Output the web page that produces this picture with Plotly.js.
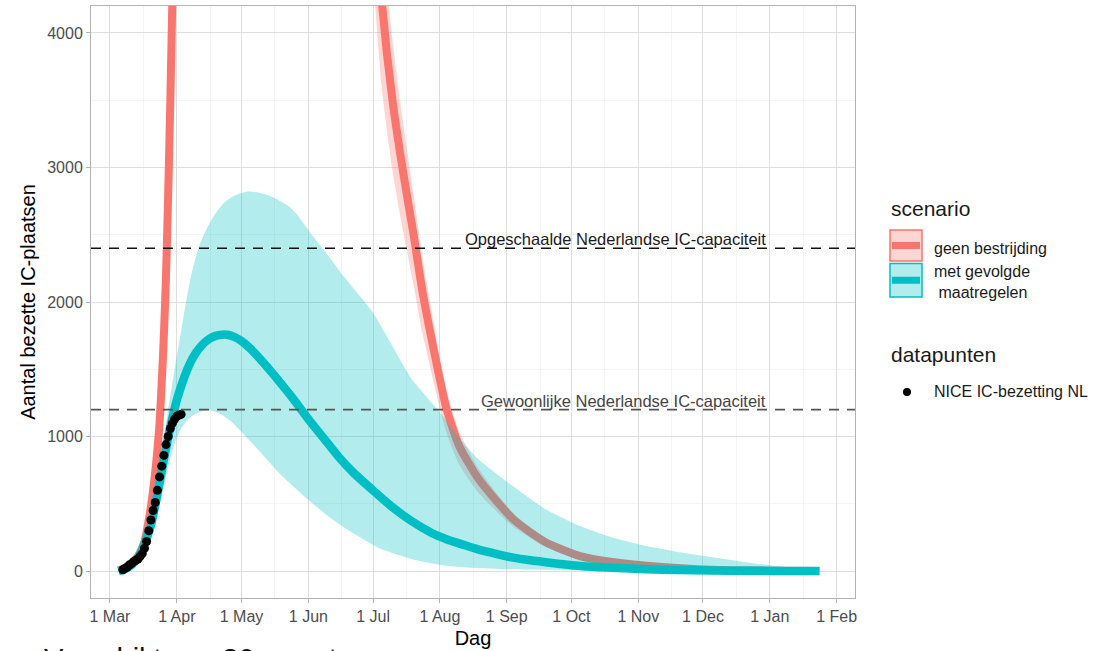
<!DOCTYPE html>
<html><head><meta charset="utf-8">
<script src="https://cdn.plot.ly/plotly-3.0.1.min.js"></script>
<style>html,body{margin:0;padding:0;background:#fff}#chart{width:1100px;height:651px}</style>
</head><body><div id="chart"></div>
<script>
// ---------- data ----------
const tealDates = ['2020-03-05','2020-03-08','2020-03-11','2020-03-14','2020-03-17','2020-03-20','2020-03-23','2020-03-26','2020-03-29','2020-04-01','2020-04-04','2020-04-07','2020-04-10','2020-04-13','2020-04-16','2020-04-19','2020-04-22','2020-04-25','2020-04-28','2020-05-01','2020-05-05','2020-05-10','2020-05-15','2020-05-20','2020-05-25','2020-06-01','2020-06-08','2020-06-15','2020-06-22','2020-07-01','2020-07-10','2020-07-19','2020-07-28','2020-08-04','2020-08-12','2020-08-19','2020-08-28','2020-09-04','2020-09-12','2020-09-19','2020-10-05','2020-10-20','2020-11-05','2020-11-20','2020-12-05','2020-12-25','2021-01-10','2021-01-24'];
const tealMedian = [0,15,45,100,200,340,570,830,1070,1270,1420,1540,1625,1685,1725,1748,1757,1755,1738,1710,1655,1570,1478,1380,1280,1130,990,850,730,600,475,370,285,237,195,160,125,100,80,66,38,24,14,8,4,2,1,0];

const tealUpperDates = ['2020-03-05','2020-03-10','2020-03-15','2020-03-20','2020-03-25','2020-03-28','2020-03-31','2020-04-03','2020-04-07','2020-04-11','2020-04-15','2020-04-19','2020-04-23','2020-04-27','2020-05-01','2020-05-04','2020-05-08','2020-05-12','2020-05-16','2020-05-20','2020-05-23','2020-05-26','2020-05-30','2020-06-03','2020-06-09','2020-06-15','2020-06-22','2020-07-01','2020-07-09','2020-07-19','2020-08-01','2020-08-10','2020-08-19','2020-09-04','2020-09-19','2020-10-05','2020-10-20','2020-11-05','2020-11-20','2020-12-05','2020-12-20','2021-01-04','2021-01-15','2021-01-24'];
const tealUpper = [0,40,150,430,880,1200,1500,1780,2150,2400,2550,2660,2740,2785,2810,2822,2815,2800,2775,2740,2710,2665,2580,2490,2370,2240,2100,1920,1700,1425,1180,990,830,630,460,335,250,186,140,104,68,37,20,10];

const tealLowerDates = ['2020-03-05','2020-03-10','2020-03-15','2020-03-20','2020-03-25','2020-03-30','2020-04-03','2020-04-07','2020-04-11','2020-04-16','2020-04-21','2020-04-26','2020-05-03','2020-05-10','2020-05-19','2020-06-01','2020-06-10','2020-06-20','2020-07-04','2020-07-20','2020-08-04','2020-08-19','2020-09-10','2020-10-10','2020-11-15','2021-01-24'];
const tealLower = [0,15,80,250,560,900,1060,1140,1180,1195,1170,1115,1000,880,720,530,410,300,170,85,40,22,12,5,2,0];

const redDates = ['2020-03-05','2020-03-10','2020-03-14','2020-03-17','2020-03-19','2020-03-21','2020-03-23','2020-03-24','2020-03-25','2020-03-26','2020-03-27','2020-03-28','2020-03-29','2020-03-30','2020-04-01','2020-04-05','2020-04-15','2020-05-01','2020-05-20','2020-06-10','2020-06-25','2020-07-01','2020-07-05','2020-07-10','2020-07-15','2020-07-20','2020-07-24','2020-08-01','2020-08-04','2020-08-10','2020-08-19','2020-09-04','2020-09-19','2020-10-05','2020-10-20','2020-11-12','2020-12-05','2021-01-01','2021-01-24'];
const redMedian = [5,40,110,220,380,600,900,1100,1400,1750,2200,2800,3500,4300,6200,11000,25000,40000,38000,20000,8000,5200,4245,3500,2960,2480,2070,1425,1210,928,683,386,215,111,67,30,10,3,0];
const redUpper  = [5,42,115,230,400,630,950,1160,1480,1850,2330,2960,3700,4550,6600,11800,27000,43000,42000,23000,9200,5900,4800,3950,3330,2780,2320,1590,1350,1035,760,430,240,124,75,34,11,3,0];
const redLower  = [5,38,105,210,360,570,850,1040,1320,1650,2080,2640,3300,4050,5800,10200,23000,37000,34000,17000,6800,4450,3600,2980,2520,2110,1760,1210,1030,790,580,330,183,94,57,25,8,2,0];

const niceDates = ['2020-03-07','2020-03-08','2020-03-09','2020-03-10','2020-03-11','2020-03-12','2020-03-13','2020-03-14','2020-03-15','2020-03-16','2020-03-17','2020-03-18','2020-03-19','2020-03-20','2020-03-21','2020-03-22','2020-03-23','2020-03-24','2020-03-25','2020-03-26','2020-03-27','2020-03-28','2020-03-29','2020-03-30','2020-03-31','2020-04-01','2020-04-02','2020-04-03'];
const niceValues = [10,20,30,45,55,70,80,90,110,130,170,220,300,380,450,510,600,700,780,860,940,1000,1060,1100,1130,1150,1160,1165];

const capacityValues = [2400, 1200];
const capacityLabels = ['Opgeschaalde Nederlandse IC-capaciteit', 'Gewoonlijke Nederlandse IC-capaciteit'];
const capacityColors = ['#111111', '#555555'];
const capacityLabelDate = '2020-12-31';

const scenarioLabels = ['geen bestrijding', 'met gevolgde<br>\u00a0maatregelen'];
const scenarioColors = ['#F8766D', '#00BFC4'];
const scenarioFills = ['rgba(248,118,109,0.3)', 'rgba(0,191,196,0.3)'];
const legendTitles = ['scenario', 'datapunten'];
const pointLabel = 'NICE IC-bezetting NL';
const xTitle = 'Dag';
const yTitle = 'Aantal bezette IC-plaatsen';
const footText = 'Verschil t.o.v. 30 maart';

// ---------- helpers ----------
function ribbon(upD, up, loD, lo) {
  return { x: upD.concat(loD.slice().reverse()), y: up.concat(lo.slice().reverse()) };
}
const redRib = ribbon(redDates, redUpper, redDates, redLower);
const tealRib = ribbon(tealUpperDates, tealUpper, tealLowerDates, tealLower);

const FONT = 'Liberation Sans, Arial, Helvetica, sans-serif';

const traces = [
  {x: redRib.x, y: redRib.y, type: 'scatter', mode: 'lines', fill: 'toself',
   fillcolor: scenarioFills[0], line: {width: 0, shape: 'spline', smoothing: 0.6}, hoverinfo: 'skip'},
  {x: redDates, y: redMedian, type: 'scatter', mode: 'lines',
   line: {color: scenarioColors[0], width: 8, shape: 'spline', smoothing: 0.6}},
  {x: tealRib.x, y: tealRib.y, type: 'scatter', mode: 'lines', fill: 'toself',
   fillcolor: scenarioFills[1], line: {width: 0, shape: 'spline', smoothing: 0.6}, hoverinfo: 'skip'},
  {x: tealDates, y: tealMedian, type: 'scatter', mode: 'lines',
   line: {color: scenarioColors[1], width: 8.5, shape: 'spline', smoothing: 0.6}},
  {x: niceDates, y: niceValues, type: 'scatter', mode: 'markers',
   marker: {color: '#000000', size: 9}}
];

// plot area in pixels
const L = 91, R = 855, T = 6, B = 598;
const px = v => (v - L) / (R - L);
const py = v => (B - v) / (B - T);

const shapes = [];
const annotations = [];

capacityValues.forEach((v, i) => {
  shapes.push({type: 'line', xref: 'paper', x0: 0, x1: 1, yref: 'y', y0: v, y1: v,
    line: {color: capacityColors[i], width: 1.6, dash: '10px,8px'}, layer: 'above'});
  annotations.push({x: capacityLabelDate, y: v, xref: 'x', yref: 'y', text: capacityLabels[i],
    showarrow: false, xanchor: 'right', yanchor: 'bottom', yshift: -2,
    font: {family: FONT, size: 16.5, color: i === 0 ? '#1a1a1a' : '#444444'}});
});

// legend (ggplot style, drawn by hand)
annotations.push({xref: 'paper', yref: 'paper', x: px(889), y: py(209), text: legendTitles[0],
  showarrow: false, xanchor: 'left', yanchor: 'middle', font: {family: FONT, size: 21, color: '#1a1a1a'}});
annotations.push({xref: 'paper', yref: 'paper', x: px(889), y: py(355), text: legendTitles[1],
  showarrow: false, xanchor: 'left', yanchor: 'middle', font: {family: FONT, size: 21, color: '#1a1a1a'}});
const boxes = [[230, 261], [263.5, 297]];
const labelY = [248, 282];
boxes.forEach((b, i) => {
  shapes.push({type: 'rect', xref: 'paper', yref: 'paper', x0: px(890), x1: px(922), y0: py(b[0]), y1: py(b[1]),
    fillcolor: scenarioFills[i], line: {color: scenarioColors[i], width: 1.5}});
  const cy = (b[0] + b[1]) / 2;
  shapes.push({type: 'line', xref: 'paper', yref: 'paper', x0: px(892), x1: px(920), y0: py(cy), y1: py(cy),
    line: {color: scenarioColors[i], width: 7}});
  annotations.push({xref: 'paper', yref: 'paper', x: px(932), y: py(labelY[i]), text: scenarioLabels[i],
    showarrow: false, xanchor: 'left', yanchor: 'middle', align: 'left',
    font: {family: FONT, size: 16, color: '#1a1a1a'}});
});
shapes.push({type: 'circle', xref: 'paper', yref: 'paper', x0: px(903), x1: px(911), y0: py(388), y1: py(396),
  fillcolor: '#000000', line: {color: '#000000', width: 0}});
annotations.push({xref: 'paper', yref: 'paper', x: px(932), y: py(392), text: pointLabel,
  showarrow: false, xanchor: 'left', yanchor: 'middle', font: {family: FONT, size: 16, color: '#1a1a1a'}});

// cut-off slide text at the bottom (cut off in the reference too)
annotations.push({xref: 'paper', yref: 'paper', x: px(42), y: py(641), text: footText,
  showarrow: false, xanchor: 'left', yanchor: 'top', font: {family: FONT, size: 29, color: '#111111'}});

const layout = {
  width: 1100, height: 651,
  margin: {l: L, r: 1100 - R, t: T, b: 651 - B},
  paper_bgcolor: '#ffffff', plot_bgcolor: '#ffffff',
  showlegend: false,
  font: {family: FONT},
  xaxis: {
    type: 'date', range: ['2020-02-21 05:00', '2021-02-09 12:00'],
    tick0: '2020-03-01', dtick: 'M1', tickformat: '%-d %b',
    ticks: 'outside', ticklen: 4, tickcolor: '#B3B3B3', tickwidth: 1,
    tickfont: {family: FONT, size: 16, color: '#4D4D4D'},
    showgrid: true, gridcolor: '#DEDEDE', gridwidth: 1,
    minor: {tick0: '2020-02-16 12:00', dtick: 'M1', showgrid: true, gridcolor: '#EFEFEF', gridwidth: 0.7},
    showline: true, mirror: true, linecolor: '#B3B3B3', linewidth: 1,
    zeroline: false,
    title: {text: xTitle, standoff: 6, font: {family: FONT, size: 20, color: '#000000'}}
  },
  yaxis: {
    range: [-200, 4200], tick0: 0, dtick: 1000,
    ticks: 'outside', ticklen: 4, tickcolor: '#B3B3B3', tickwidth: 1,
    tickfont: {family: FONT, size: 16, color: '#4D4D4D'},
    showgrid: true, gridcolor: '#DEDEDE', gridwidth: 1,
    minor: {tick0: 0, dtick: 500, showgrid: true, gridcolor: '#EFEFEF', gridwidth: 0.7},
    showline: true, mirror: true, linecolor: '#B3B3B3', linewidth: 1,
    zeroline: false,
    title: {text: yTitle, standoff: 6, font: {family: FONT, size: 20, color: '#000000'}}
  },
  shapes: shapes,
  annotations: annotations
};

Plotly.newPlot('chart', traces, layout, {displayModeBar: false, staticPlot: true});
</script>
</body></html>
